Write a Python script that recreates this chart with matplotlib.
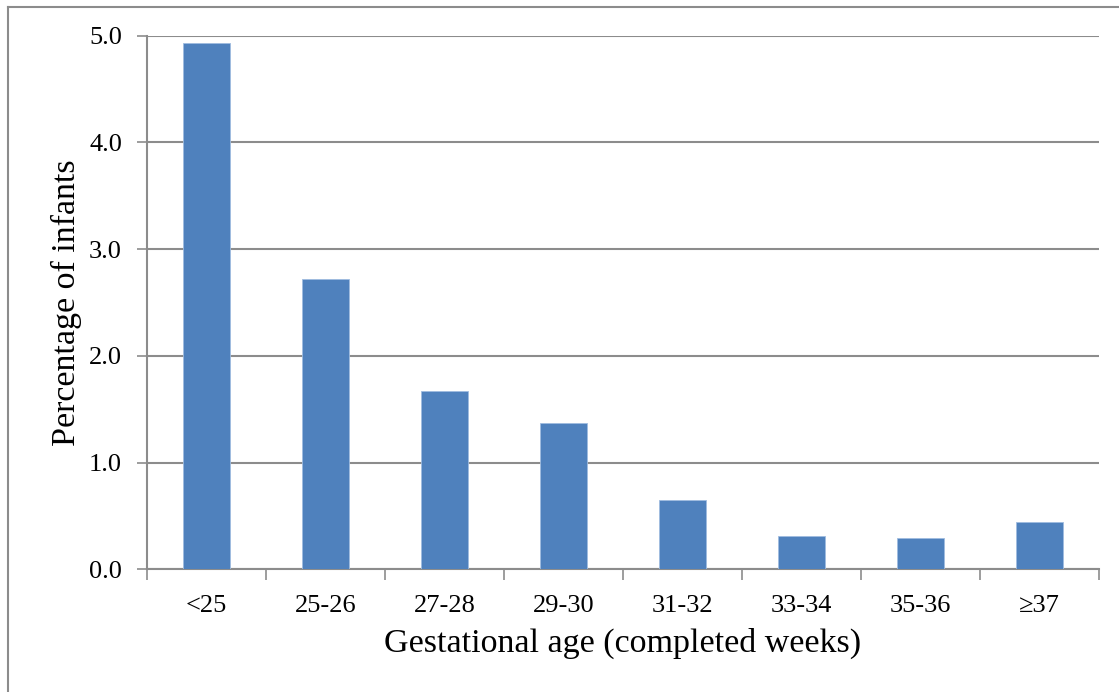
import matplotlib
matplotlib.use("Agg")
import matplotlib.pyplot as plt
from matplotlib.lines import Line2D

categories = ["<25", "25-26", "27-28", "29-30", "31-32", "33-34", "35-36", "\u226537"]
values = [4.93, 2.72, 1.67, 1.37, 0.65, 0.31, 0.29, 0.44]
yticks = [0.0, 1.0, 2.0, 3.0, 4.0, 5.0]

W, H = 1119, 692
fig = plt.figure(figsize=(W / 100, H / 100), dpi=100)
fig.patch.set_facecolor("white")

# outer frame (top and left edges visible)
fig.add_artist(Line2D([8 / W, 1.0], [1 - 7 / H, 1 - 7 / H], color="#8c8c8c", lw=1.5))
fig.add_artist(Line2D([8 / W, 8 / W], [0.0, 1 - 7 / H], color="#8c8c8c", lw=1.5))

ax = fig.add_axes([147 / W, 1 - 569.2 / H, (1099 - 147) / W, (569.2 - 35.7) / H])
x = list(range(len(categories)))
ax.bar(x, values, width=0.4, color="#4F81BD", edgecolor="#9fbce0", linewidth=0.6, zorder=3)
ax.set_xlim(-0.5, len(categories) - 0.5)
ax.set_ylim(0, 5)
ax.set_yticks(yticks)
ax.set_yticklabels([f"{v:.1f}" for v in yticks])
ax.yaxis.grid(True, color="#8c8c8c", lw=1.5, zorder=0)
ax.set_axisbelow(True)

ax.set_xticks([i - 0.5 for i in range(len(categories) + 1)], minor=False)
ax.set_xticklabels([""] * (len(categories) + 1))
ax.set_xticks(x, minor=True)
ax.set_xticklabels(categories, minor=True)
ax.tick_params(axis="x", which="major", length=8, width=1.2, color="#8c8c8c", direction="out")
ax.tick_params(axis="x", which="minor", length=0, pad=18.5, labelsize=19)
ax.tick_params(axis="y", length=7, width=1.2, color="#8c8c8c", direction="out", labelsize=19, pad=11)

for side in ["top", "right"]:
    ax.spines[side].set_visible(False)
for side in ["left", "bottom"]:
    ax.spines[side].set_color("#8c8c8c")
    ax.spines[side].set_linewidth(1.5)

font = "Liberation Serif"
for lab in ax.get_xticklabels(minor=True) + ax.get_yticklabels():
    lab.set_fontfamily(font)
    lab.set_color("black")

ax.set_xlabel("Gestational age (completed weeks)", fontsize=24.5, family=font, labelpad=8)
ax.set_ylabel("Percentage of infants", fontsize=24.5, family=font, labelpad=5)

fig.savefig("out.png", dpi=100, facecolor="white")
